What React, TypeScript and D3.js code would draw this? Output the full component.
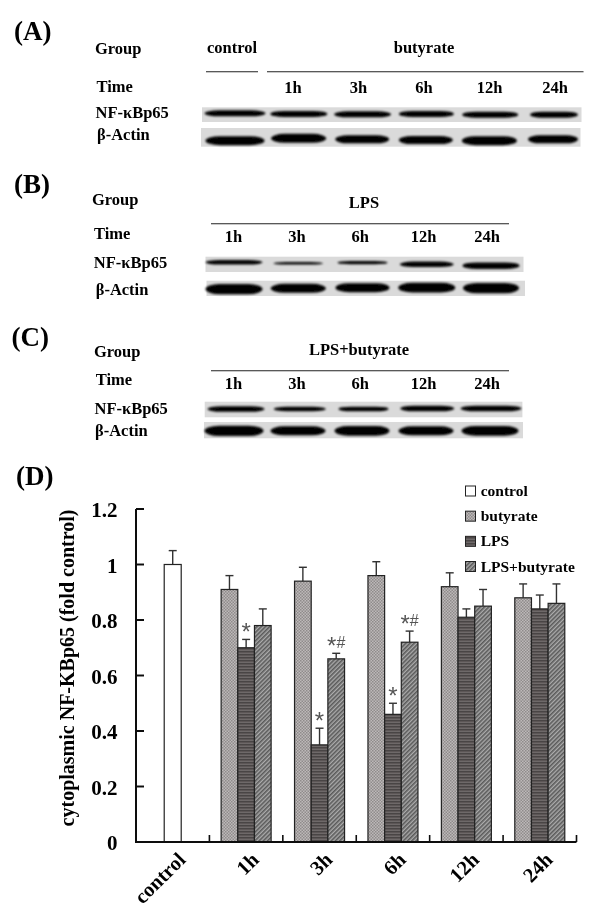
import React from "react";
import * as d3 from "d3";

const W = 600, H = 919;
const FONT = "'Liberation Serif', serif";

// ---- Panel D data
const groups = ["control", "1h", "3h", "6h", "12h", "24h"];
const seriesNames = ["control", "butyrate", "LPS", "LPS+butyrate"];
const yTicks = [0, 0.2, 0.4, 0.6, 0.8, 1, 1.2];
const controlValues = [1];
const controlErrors = [0.05];
const butyrateValues = [0.91, 0.94, 0.96, 0.92, 0.88];
const butyrateErrors = [0.05, 0.05, 0.05, 0.05, 0.05];
const lpsValues = [0.7, 0.35, 0.46, 0.81, 0.84];
const lpsErrors = [0.03, 0.06, 0.04, 0.03, 0.05];
const lpsButValues = [0.78, 0.66, 0.72, 0.85, 0.86];
const lpsButErrors = [0.06, 0.02, 0.04, 0.06, 0.07];
const lpsMarks = ["*", "*", "*", "", ""];
const lpsButMarks = ["", "*#", "*#", "", ""];

// ---- Blot panels (signal: width and thickness of each band, drift of the band)
const times = ["1h", "3h", "6h", "12h", "24h"];
const aNfWidth = [61, 57, 57, 55, 56, 48];
const aNfThick = [6, 6, 6, 6, 6, 6];
const aNfDrift = [-1.3, -0.7, -0.3, -0.7, 0, 0];
const aActinWidth = [59, 55, 54, 54, 55, 50];
const aActinThick = [9, 9, 8, 8, 9, 8];
const aActinDrift = [3.3, 1, 2, 2.7, 3.3, 2];
const bNfWidth = [57, 50, 50, 54, 57];
const bNfThick = [4.5, 2.5, 3.2, 5.5, 6.5];
const bNfDrift = [-2, -1, -1.7, 0, 1.3];
const bActinWidth = [57, 55, 54, 57, 56];
const bActinThick = [10.3, 9, 9, 9.7, 10.3];
const bActinDrift = [0.7, 0, -0.7, -0.7, -0.3];
const cNfWidth = [57, 52, 50, 54, 61];
const cNfThick = [5.7, 4.3, 4.7, 5.7, 5.7];
const cNfDrift = [-0.5, -0.5, -0.5, -1, -1];
const cActinWidth = [59, 55, 55, 55, 57];
const cActinThick = [10.3, 9, 9.7, 9, 9.7];
const cActinDrift = [0.7, 0.7, 0.7, 0.7, 0.7];

const y = d3.scaleLinear().domain([0, 1.2]).range([842, 509]);
const x = d3.scaleBand<string>().domain(groups).range([136, 576.5]);
const seriesX = d3.scaleBand<string>().domain(seriesNames.slice(1)).range([-25, 25]);
const fills: Record<string, string> = {
  control: "#ffffff",
  butyrate: "url(#pButyrate)",
  LPS: "url(#pLps)",
  "LPS+butyrate": "url(#pLpsBut)",
};

type Bar = { name: string; cx: number; w: number; value: number; err: number; mark: string };
const bars: Bar[] = [];
bars.push({ name: "control", cx: x("control")! + x.bandwidth() / 2, w: 17, value: controlValues[0], err: controlErrors[0], mark: "" });
times.forEach((t, i) => {
  const c = x(t)! + x.bandwidth() / 2;
  const add = (name: string, value: number, err: number, mark: string) =>
    bars.push({ name, cx: c + seriesX(name)! + seriesX.bandwidth() / 2, w: seriesX.bandwidth(), value, err, mark });
  add("butyrate", butyrateValues[i], butyrateErrors[i], "");
  add("LPS", lpsValues[i], lpsErrors[i], lpsMarks[i]);
  add("LPS+butyrate", lpsButValues[i], lpsButErrors[i], lpsButMarks[i]);
});

function Blot({ x0, x1, y0, y1, first, last, widths, thick, drift }: { x0: number; x1: number; y0: number; y1: number; first: number; last: number; widths: number[]; thick: number[]; drift: number[] }) {
  const lane = d3.scaleLinear().domain([0, widths.length - 1]).range([first, last]);
  const cy = (y0 + y1) / 2;
  return (
    <g>
      <rect x={x0} y={y0} width={x1 - x0} height={y1 - y0} fill="#dadada" filter="url(#soft)" />
      <g filter="url(#band)">
        {widths.map((w, i) => (
          <rect key={i} x={lane(i) - w / 2} y={cy + drift[i] - thick[i] / 2} width={w} height={thick[i]} rx={w * 0.25} ry={thick[i] / 2} fill="#030303" />
        ))}
      </g>
    </g>
  );
}

const T = ({ x: tx, y: ty, s = 16.5, anchor = "start", children }: any) => (
  <text x={tx} y={ty} fontSize={s} fontWeight="bold" textAnchor={anchor} fill="#000">{children}</text>
);

function BlotLabels({ gx, gy, tx, ty, nx, ny, ax, ay }: any) {
  return (
    <g>
      <T x={gx} y={gy}>Group</T>
      <T x={tx} y={ty}>Time</T>
      <T x={nx} y={ny}>NF-κBp65</T>
      <T x={ax} y={ay}>β-Actin</T>
    </g>
  );
}

export default function App() {
  return (
    <svg width={W} height={H} viewBox={`0 0 ${W} ${H}`} style={{ position: "absolute", left: 0, top: 0, background: "#fff", display: "block" }} fontFamily={FONT}>
      <defs>
        <filter id="soft" x="-5%" y="-20%" width="110%" height="140%"><feGaussianBlur stdDeviation="0.7" /></filter>
        <filter id="band" x="-5%" y="-50%" width="110%" height="200%"><feGaussianBlur stdDeviation="0.9" /></filter>
        <filter id="txt" x="-2%" y="-2%" width="104%" height="104%"><feGaussianBlur stdDeviation="0.3" /></filter>
        <pattern id="pButyrate" width="3" height="3" patternUnits="userSpaceOnUse">
          <rect width="3" height="3" fill="#bdb9b9" />
          <rect width="1.5" height="1.5" fill="#8f8b8b" />
          <rect x="1.5" y="1.5" width="1.5" height="1.5" fill="#8f8b8b" />
        </pattern>
        <pattern id="pLps" width="3" height="3" patternUnits="userSpaceOnUse">
          <rect width="3" height="3" fill="#6e6969" />
          <rect width="3" height="1.5" fill="#4a4545" />
        </pattern>
        <pattern id="pLpsBut" width="3" height="3" patternUnits="userSpaceOnUse" patternTransform="rotate(45)">
          <rect width="3" height="3" fill="#ababab" />
          <rect width="1.6" height="3" fill="#5a5a5a" />
        </pattern>
      </defs>

      <g filter="url(#txt)">
        {/* Panel A */}
        <T x={14} y={39.5} s={27}>(A)</T>
        <BlotLabels gx={95} gy={54} tx={96.5} ty={91.7} nx={95.5} ny={118.3} ax={97} ay={140} />
        <T x={232} y={53.3} anchor="middle">control</T>
        <T x={424} y={53.3} anchor="middle">butyrate</T>
        <line x1={206} x2={258} y1={71.7} y2={71.7} stroke="#222" strokeWidth={1.1} />
        <line x1={267} x2={583.5} y1={71.7} y2={71.7} stroke="#222" strokeWidth={1.1} />
        {times.map((t, i) => (
          <T key={t} x={d3.scaleLinear().domain([0, 4]).range([293, 555])(i)} y={92.7} anchor="middle">{t}</T>
        ))}
        <Blot x0={202} x1={581.5} y0={107.3} y1={122} first={235} last={554} widths={aNfWidth} thick={aNfThick} drift={aNfDrift} />
        <Blot x0={201} x1={580.5} y0={128} y1={146.7} first={235} last={553} widths={aActinWidth} thick={aActinThick} drift={aActinDrift} />

        {/* Panel B */}
        <T x={14} y={193} s={27}>(B)</T>
        <BlotLabels gx={92} gy={205} tx={94} ty={239} nx={93.8} ny={267.7} ax={95.7} ay={294.7} />
        <T x={364} y={208.3} anchor="middle">LPS</T>
        <line x1={211} x2={509} y1={223.7} y2={223.7} stroke="#222" strokeWidth={1.1} />
        {times.map((t, i) => (
          <T key={t} x={d3.scaleLinear().domain([0, 4]).range([233.5, 487])(i)} y={242.3} anchor="middle">{t}</T>
        ))}
        <Blot x0={205.5} x1={523.5} y0={256.7} y1={272} first={234} last={491} widths={bNfWidth} thick={bNfThick} drift={bNfDrift} />
        <Blot x0={206.5} x1={525} y0={280.7} y1={296} first={234} last={491} widths={bActinWidth} thick={bActinThick} drift={bActinDrift} />

        {/* Panel C */}
        <T x={11.5} y={345.7} s={27}>(C)</T>
        <BlotLabels gx={94} gy={357.3} tx={95.7} ty={385.3} nx={94.5} ny={414.3} ax={95} ay={436} />
        <T x={359} y={355} anchor="middle">LPS+butyrate</T>
        <line x1={211} x2={509} y1={370.7} y2={370.7} stroke="#222" strokeWidth={1.1} />
        {times.map((t, i) => (
          <T key={t} x={d3.scaleLinear().domain([0, 4]).range([233.5, 487])(i)} y={388.7} anchor="middle">{t}</T>
        ))}
        <Blot x0={204.7} x1={522.4} y0={401.7} y1={417.3} first={236} last={491} widths={cNfWidth} thick={cNfThick} drift={cNfDrift} />
        <Blot x0={204} x1={523} y0={422} y1={438.3} first={234} last={490} widths={cActinWidth} thick={cActinThick} drift={cActinDrift} />

        {/* Panel D */}
        <T x={16} y={485} s={27}>(D)</T>
        <text transform={`translate(74,668) rotate(-90)`} textAnchor="middle" fontSize={20} fontWeight="bold" fill="#000">cytoplasmic NF-KBp65 (fold control)</text>

        {yTicks.map((t) => (
          <g key={t}>
            <line x1={136} x2={144} y1={y(t)} y2={y(t)} stroke="#111" strokeWidth={2} />
            <T x={117.5} y={y(t) + 8} s={21} anchor="end">{d3.format("~g")(t)}</T>
          </g>
        ))}

        {bars.map((b, i) => {
          const capY = y(b.value + b.err);
          return (
            <g key={i}>
              <line x1={b.cx} x2={b.cx} y1={y(b.value)} y2={capY} stroke="#333" strokeWidth={1.4} />
              <line x1={b.cx - 4} x2={b.cx + 4} y1={capY} y2={capY} stroke="#333" strokeWidth={1.4} />
              <rect x={b.cx - b.w / 2} y={y(b.value)} width={b.w} height={y(0) - y(b.value)} fill={fills[b.name]} stroke="#222" strokeWidth={1.2} />
              {b.mark && (
                <text x={b.cx} y={capY + 1} textAnchor="middle" fill="#555" fontFamily="'Liberation Sans', sans-serif">
                  <tspan fontSize={24}>*</tspan>
                  {b.mark.includes("#") && <tspan fontSize={16} dy={-6}>#</tspan>}
                </text>
              )}
            </g>
          );
        })}

        <line x1={136} x2={136} y1={y(1.2)} y2={y(0) + 1} stroke="#111" strokeWidth={2} />
        <line x1={135} x2={576.5} y1={y(0)} y2={y(0)} stroke="#111" strokeWidth={2} />
        {x.domain().map((g) => (
          <line key={g} x1={x(g)! + x.bandwidth()} x2={x(g)! + x.bandwidth()} y1={y(0)} y2={y(0) - 7} stroke="#111" strokeWidth={1.6} />
        ))}
        {groups.map((g) => (
          <text key={g} transform={`translate(${x(g)! + x.bandwidth() / 2 + 14},861) rotate(-45)`} textAnchor="end" fontSize={20.5} fontWeight="bold" fill="#000">{g}</text>
        ))}

        {seriesNames.map((s, i) => {
          const ly = d3.scaleLinear().domain([0, 3]).range([491, 566.5])(i);
          return (
            <g key={s}>
              <rect x={465.5} y={ly - 5} width={10} height={10} fill={fills[s]} stroke="#222" strokeWidth={1} />
              <T x={480.7} y={ly + 5} s={15.5}>{s}</T>
            </g>
          );
        })}
      </g>
    </svg>
  );
}
